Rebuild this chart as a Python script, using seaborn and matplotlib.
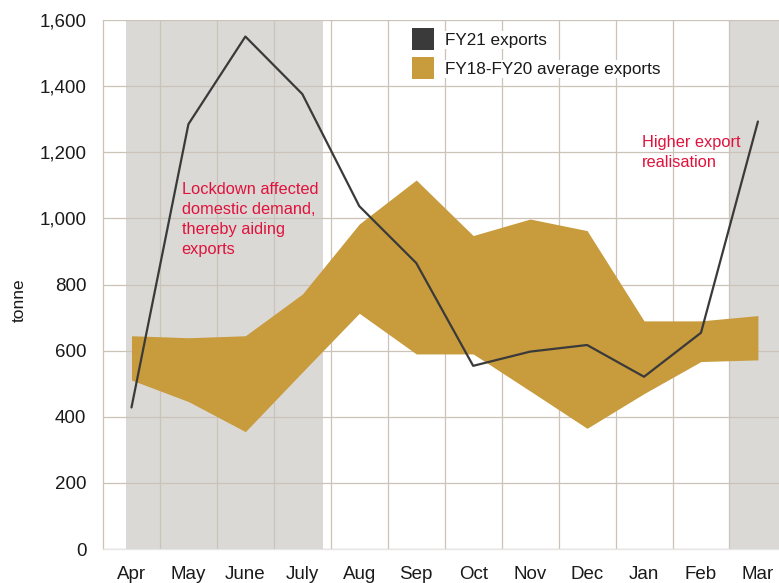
import numpy as np
import pandas as pd
import matplotlib
matplotlib.use("Agg")
import matplotlib.pyplot as plt
import matplotlib.ticker as mticker
from matplotlib.patches import Patch
import seaborn as sns

months = ["Apr", "May", "June", "July", "Aug", "Sep", "Oct", "Nov", "Dec", "Jan", "Feb", "Mar"]
fy21_exports = [428, 1285, 1550, 1376, 1037, 865, 554, 597, 617, 521, 654, 1293]
avg_upper = [645, 639, 645, 771, 983, 1116, 948, 998, 963, 690, 690, 706]
avg_lower = [511, 446, 355, 535, 713, 590, 590, 478, 365, 470, 567, 572]
y_ticks = [0, 200, 400, 600, 800, 1000, 1200, 1400, 1600]

sns.set_theme(style="white")
plt.rcParams["font.family"] = ["Liberation Sans", "DejaVu Sans"]

grid_c = "#cbc2b8"
gold = "#c89b3c"
dark = "#3a3a3a"
red = "#e0123c"

fig = plt.figure(figsize=(7.79, 5.83), dpi=100)
ax = fig.add_axes([103 / 779, 1 - 549 / 583, 1 - 103 / 779, (549 - 20) / 583])

x = np.arange(len(months))
df = pd.DataFrame({"x": x, "FY21": fy21_exports})

ax.set_axisbelow(True)
ax.axvspan(-0.09, 3.36, color="#dbd9d6", zorder=0.1, lw=0)
ax.axvspan(10.49, 12, color="#dbd9d6", zorder=0.1, lw=0)

ax.fill_between(x, avg_lower, avg_upper, color=gold, lw=0, zorder=2)
sns.lineplot(data=df, x="x", y="FY21", ax=ax, color=dark, lw=1.6, zorder=3)

ax.set_xlim(-0.5, 11.37)
ax.set_ylim(0, 1600)
ax.set_yticks(y_ticks)
ax.yaxis.set_major_formatter(mticker.FuncFormatter(lambda v, p: f"{int(v):,}"))
ax.set_xticks(x)
ax.set_xticklabels(months)
ax.set_xticks(np.arange(0.5, 11, 1), minor=True)
ax.grid(False)
ax.grid(axis="y", which="major", color=grid_c, lw=0.9)
ax.grid(axis="x", which="minor", color=grid_c, lw=0.9)
ax.tick_params(axis="both", which="both", length=0, labelsize=13.5, colors="#1a1a1a")
ax.tick_params(axis="x", pad=12.5)
ax.tick_params(axis="y", pad=12)

for s in ["top", "right"]:
    ax.spines[s].set_visible(False)
ax.spines["left"].set_color(grid_c)
ax.spines["left"].set_linewidth(0.9)
ax.spines["bottom"].set_color("#e6e6e6")
ax.spines["bottom"].set_linewidth(1.0)

ax.set_xlabel("")
ax.set_ylabel("tonne", fontsize=12.5, color="#1a1a1a")
ax.yaxis.set_label_coords(-0.113, 0.47)

ax.text(0.88, 1110, "Lockdown affected\ndomestic demand,\nthereby aiding\nexports",
        color=red, fontsize=11.8, va="top", ha="left", linespacing=1.43, zorder=5)
ax.text(8.96, 1253, "Higher export\nrealisation",
        color=red, fontsize=11.8, va="top", ha="left", linespacing=1.43, zorder=5)

handles = [Patch(facecolor=dark, edgecolor="none", label="FY21 exports"),
           Patch(facecolor=gold, edgecolor="none", label="FY18-FY20 average exports")]
leg = fig.legend(handles=handles, loc="upper left",
                 bbox_to_anchor=(412 / 779, 1 - 28 / 583), bbox_transform=fig.transFigure,
                 frameon=False, fontsize=12.3, handlelength=1.29, handleheight=1.6,
                 handletextpad=0.66, labelspacing=0.41, borderpad=0, borderaxespad=0)
for t in leg.get_texts():
    t.set_color("#1a1a1a")
    t.set_bbox(dict(facecolor="white", edgecolor="none", pad=1))

fig.savefig("out.png", dpi=100)
